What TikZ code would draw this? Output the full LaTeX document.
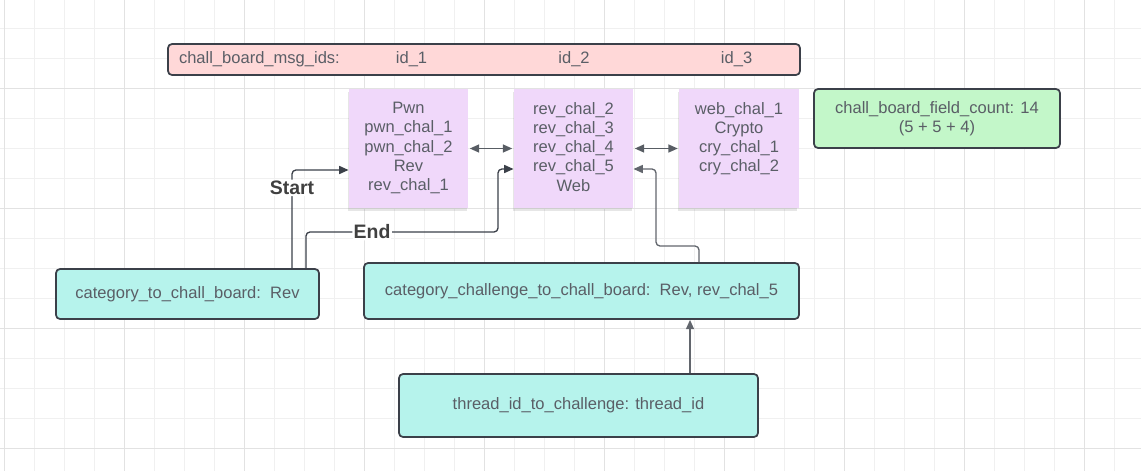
\documentclass[tikz,border=0pt]{standalone}
\usepackage{fontspec}
\setmainfont{Liberation Sans}
\usepackage{xcolor}
\usepackage{tikz}
\usetikzlibrary{arrows.meta,calc,shadows}

\definecolor{msgpink}{HTML}{FFD8D8}
\definecolor{notepurple}{HTML}{F0D8FA}
\definecolor{countgreen}{HTML}{C3F7C9}
\definecolor{mapteal}{HTML}{B6F3EC}
\definecolor{edgegray}{HTML}{3B4049}
\definecolor{textgray}{HTML}{5A5E66}
\definecolor{gridminor}{HTML}{F0F0F0}
\definecolor{gridmajor}{HTML}{E2E2E2}

% sticky note body, text sits at the top
\newcommand{\notebody}[1]{\parbox[c][89.25pt][t]{89.5pt}{\centering\vspace{10pt}#1}}

\begin{document}
\begin{tikzpicture}[
    x=0.75pt, y=-0.75pt,
    font=\fontsize{12.4}{14.4}\selectfont,
    msgbar/.style={rectangle, draw=edgegray, line width=1.3pt, rounded corners=3pt,
                   fill=msgpink, text=textgray, text width=457.5pt, align=left,
                   inner xsep=8.25pt, inner ysep=2pt, minimum height=23.25pt},
    sticky/.style={rectangle, fill=notepurple, text=textgray, inner sep=0pt,
                   drop shadow={shadow xshift=-1pt, shadow yshift=-2.5pt, opacity=0.2}},
    countbox/.style={rectangle, draw=edgegray, line width=1.3pt, rounded corners=3pt,
                     fill=countgreen, text=textgray, align=center,
                     minimum width=184.5pt, minimum height=44.25pt},
    mapbox/.style={rectangle, draw=edgegray, line width=1.3pt, rounded corners=3pt,
                   fill=mapteal, text=textgray, align=center},
    lbl/.style={fill=white, inner sep=1pt, text=black!75,
                font=\fontsize{14.6}{16}\selectfont\bfseries},
    arr/.style={-{Triangle[length=7pt, width=6pt]}, draw=edgegray, line width=1pt,
                rounded corners=3pt},
    dblarr/.style={{Triangle[length=7pt, width=6pt]}-{Triangle[length=7pt, width=6pt]},
                   draw=edgegray!85, line width=1pt, shorten <=1pt, shorten >=1pt},
]
\useasboundingbox (0,0) rectangle (1141,471);

% Grid
\foreach \gx in {4,34,...,1141} \draw[gridminor, line width=0.75pt] (\gx,0) -- (\gx,471);
\foreach \gy in {28,58,...,471} \draw[gridminor, line width=0.75pt] (0,\gy) -- (1141,\gy);
\foreach \gx in {4,124,...,1141} \draw[gridmajor, line width=0.75pt] (\gx,0) -- (\gx,471);
\foreach \gy in {88,208,...,471} \draw[gridmajor, line width=0.75pt] (0,\gy) -- (1141,\gy);

% Message id bar
\node[msgbar] (msgids) at (484,59.5)
    {\makebox[0pt][l]{chall\_board\_msg\_ids:}\hspace{174.4pt}\makebox[0pt]{id\_1}%
     \hspace{121.9pt}\makebox[0pt]{id\_2}\hspace{121.9pt}\makebox[0pt]{id\_3}};

% Board notes
\node[sticky] (boardA) at (408.5,148.5)
    {\notebody{Pwn\\pwn\_chal\_1\\pwn\_chal\_2\\Rev\\rev\_chal\_1}};
\node[sticky] (boardB) at (573.5,148.5)
    {\notebody{rev\_chal\_2\\rev\_chal\_3\\rev\_chal\_4\\rev\_chal\_5\\Web}};
\node[sticky] (boardC) at (739,148.5)
    {\notebody{web\_chal\_1\\Crypto\\cry\_chal\_1\\cry\_chal\_2}};

% Field count
\node[countbox] (fieldcount) at (937,118.5)
    {chall\_board\_field\_count: 14\\(5 + 5 + 4)};

% Lookup maps
\node[mapbox, minimum width=197.25pt, minimum height=37.5pt] (cattoboard) at (187.5,294)
    {category\_to\_chall\_board:\ \ Rev};
\node[mapbox, minimum width=326.25pt, minimum height=42pt] (catchal) at (581.5,291)
    {category\_challenge\_to\_chall\_board:\ \ Rev, rev\_chal\_5};
\node[mapbox, minimum width=269.25pt, minimum height=47.25pt] (threadid) at (578.5,405.5)
    {thread\_id\_to\_challenge: thread\_id};

% Bends
\coordinate (endbend) at (498,232);
\coordinate (revbend) at (656,246);

% Arrows
\draw[dblarr] (boardA.east) -- (boardB.west);
\draw[dblarr] (boardB.east) -- (boardC.west);
\draw[arr] ($(cattoboard.north)+(104.5,0)$) |- node[lbl, pos=0.409] {Start}
    ($(boardA.west)+(0,21.5)$);
\draw[arr] ($(cattoboard.north)+(118.5,0)$) |- node[lbl, pos=0.672] {End}
    (endbend) |- ($(boardB.west)+(0,20.5)$);
\draw[arr, draw=edgegray!80] ($(catchal.north)+(117.5,0)$) |- (revbend)
    |- ($(boardB.east)+(0,20.5)$);
\draw[arr, draw=edgegray!80] ($(threadid.north)+(111.5,0)$) -- ($(catchal.south)+(108.5,0)$);

\end{tikzpicture}
\end{document}
